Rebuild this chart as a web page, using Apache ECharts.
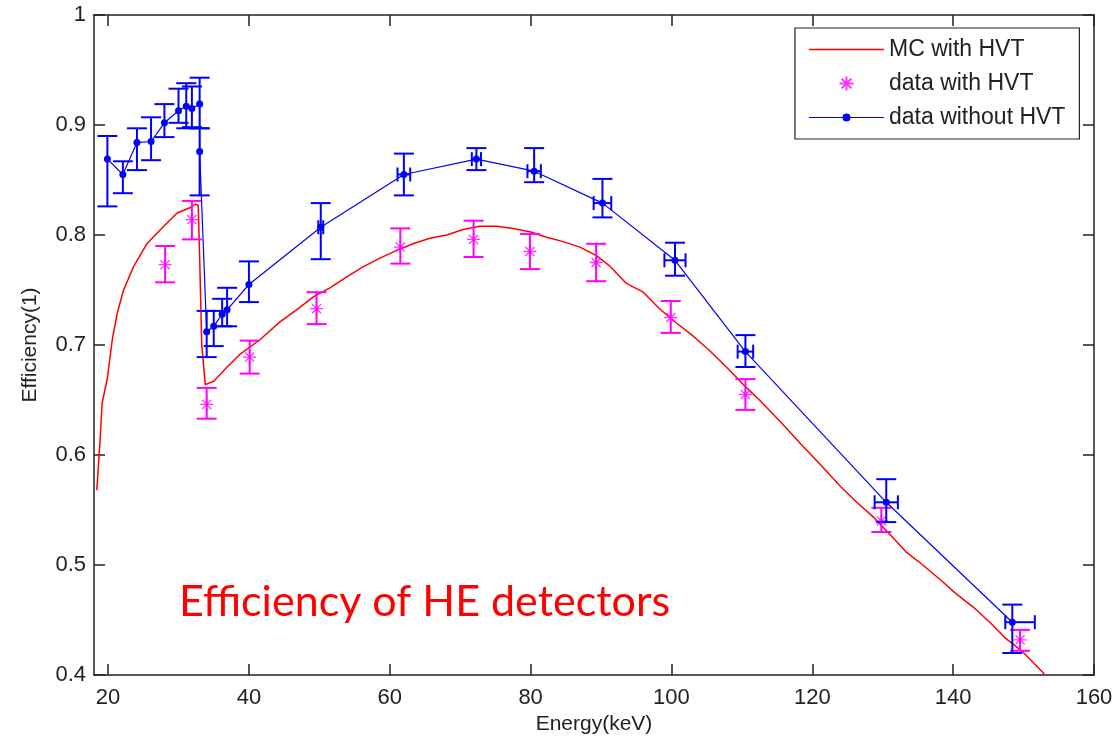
<!DOCTYPE html>
<html>
<head>
<meta charset="utf-8">
<title>Efficiency of HE detectors</title>
<script src="https://cdn.jsdelivr.net/npm/echarts@6/dist/echarts.min.js"></script>
<style>
  html, body { margin: 0; padding: 0; background: #fff; }
  #chart { width: 1116px; height: 740px; }
</style>
</head>
<body>
<div id="chart"></div>
<script>
// ---- Monte Carlo efficiency curve (with HVT) ----
const mcEnergy = [18.4, 18.9, 19.15, 19.9, 20.6, 21.3, 22.2, 23.6, 25.5, 27.9, 29.8, 31.7, 32.4, 32.8,
  33.0, 33.3, 33.8, 35.0, 36.9, 38.8, 41.6, 44.4, 47.0, 49.2, 51.5, 53.9, 56.2, 58.6, 61.0, 63.3,
  65.7, 68.1, 70.4, 72.8, 75.2, 77.5, 79.9, 82.3, 84.6, 87.0, 89.4, 91.2, 93.6, 96.0, 98.3, 100.7,
  103.1, 105.4, 107.8, 110.2, 112.5, 115.5, 118.5, 121.2, 123.9, 126.3, 128.6, 131.0, 133.3, 135.7,
  138.1, 140.4, 142.8, 145.2, 147.5, 149.9, 152.96];
const mcEff = [0.568, 0.617, 0.647, 0.670, 0.705, 0.729, 0.750, 0.771, 0.792, 0.808, 0.820, 0.825, 0.828, 0.827,
  0.780, 0.700, 0.664, 0.667, 0.680, 0.692, 0.705, 0.721, 0.733, 0.744, 0.752, 0.762, 0.771, 0.779, 0.786, 0.792,
  0.797, 0.800, 0.805, 0.808, 0.808, 0.806, 0.803, 0.798, 0.794, 0.789, 0.781, 0.772, 0.756, 0.748, 0.733, 0.720,
  0.708, 0.695, 0.680, 0.664, 0.650, 0.630, 0.609, 0.591, 0.572, 0.557, 0.544, 0.528, 0.512, 0.500,
  0.487, 0.474, 0.462, 0.448, 0.433, 0.421, 0.401];

// ---- Measured data with HVT ----
const hvtEnergy = [28.1, 31.9, 34.0, 40.1, 49.6, 61.5, 71.9, 79.9, 89.3, 99.9, 110.5, 129.8, 149.5];
const hvtEff    = [0.773, 0.814, 0.646, 0.689, 0.733, 0.789, 0.796, 0.785, 0.775, 0.725, 0.655, 0.540, 0.432];
const hvtLow    = [0.757, 0.796, 0.633, 0.674, 0.719, 0.774, 0.780, 0.769, 0.758, 0.711, 0.641, 0.530, 0.422];
const hvtHigh   = [0.790, 0.831, 0.661, 0.704, 0.748, 0.806, 0.813, 0.801, 0.792, 0.740, 0.669, 0.552, 0.441];

// ---- Measured data without HVT ----
const noHvtEnergy = [19.9, 22.1, 24.1, 26.1, 28.0, 30.0, 31.1, 31.9, 33.0, 33.0, 34.0, 35.0, 36.2, 36.9, 40.0,
  50.2, 62.0, 72.3, 80.5, 90.2, 100.5, 110.5, 130.5, 148.4];
const noHvtEff  = [0.869, 0.855, 0.884, 0.885, 0.902, 0.913, 0.917, 0.915, 0.919, 0.876, 0.712, 0.717, 0.728, 0.732, 0.755,
  0.807, 0.855, 0.869, 0.858, 0.829, 0.777, 0.694, 0.557, 0.448];
const noHvtLow  = [0.826, 0.838, 0.859, 0.868, 0.889, 0.902, 0.897, 0.898, 0.897, 0.836, 0.689, 0.699, 0.717, 0.717, 0.739,
  0.778, 0.836, 0.859, 0.848, 0.816, 0.763, 0.680, 0.539, 0.420];
const noHvtHigh = [0.890, 0.867, 0.897, 0.907, 0.919, 0.933, 0.938, 0.935, 0.943, 0.897, 0.731, 0.731, 0.742, 0.752, 0.776,
  0.829, 0.874, 0.879, 0.879, 0.851, 0.793, 0.709, 0.578, 0.464];
// energy uncertainty (keV), left / right
const noHvtELeft  = [0, 0, 0, 0, 0, 0, 0, 0, 0, 0, 0, 0, 0, 0, 0, 0.35, 0.9, 0.65, 0.95, 1.25, 1.5, 1.1, 1.65, 1.0];
const noHvtERight = [0, 0, 0, 0, 0, 0, 0, 0, 0, 0, 0, 0, 0, 0, 0, 0.35, 0.9, 0.65, 0.95, 1.25, 1.5, 1.1, 1.65, 3.2];

// ---- Axis ticks ----
const energyTicks = [20, 40, 60, 80, 100, 120, 140, 160];

const RED = '#ff0000', MAGENTA = '#ff00ff', BLUE = '#0000ff', INK = '#222222';
const FONT = '"Liberation Sans", Arial, sans-serif';

const mcData = mcEnergy.map((e, i) => [e, mcEff[i]]);
const hvtPoints = hvtEnergy.map((e, i) => [e, hvtEff[i]]);
const hvtBars = hvtEnergy.map((e, i) => [e, hvtEff[i], hvtLow[i], hvtHigh[i], e, e]);
const noHvtPoints = noHvtEnergy.map((e, i) => [e, noHvtEff[i]]);
const noHvtBars = noHvtEnergy.map((e, i) =>
  [e, noHvtEff[i], noHvtLow[i], noHvtHigh[i], e - noHvtELeft[i], e + noHvtERight[i]]);

// Error bars: vertical bar with caps, plus optional horizontal (energy) bar with caps.
function errorBars(color, capHalf, hCapHalf, width) {
  return function (params, api) {
    const x = api.value(0), y = api.value(1), lo = api.value(2), hi = api.value(3);
    const xl = api.value(4), xh = api.value(5);
    const st = { stroke: color, lineWidth: width, fill: null };
    const a = api.coord([x, lo]), b = api.coord([x, hi]);
    const kids = [
      { type: 'line', shape: { x1: a[0], y1: a[1], x2: b[0], y2: b[1] }, style: st },
      { type: 'line', shape: { x1: a[0] - capHalf, y1: a[1], x2: a[0] + capHalf, y2: a[1] }, style: st },
      { type: 'line', shape: { x1: b[0] - capHalf, y1: b[1], x2: b[0] + capHalf, y2: b[1] }, style: st }
    ];
    if (xh > xl) {
      const l = api.coord([xl, y]), r = api.coord([xh, y]);
      kids.push(
        { type: 'line', shape: { x1: l[0], y1: l[1], x2: r[0], y2: r[1] }, style: st },
        { type: 'line', shape: { x1: l[0], y1: l[1] - hCapHalf, x2: l[0], y2: l[1] + hCapHalf }, style: st },
        { type: 'line', shape: { x1: r[0], y1: r[1] - hCapHalf, x2: r[0], y2: r[1] + hCapHalf }, style: st }
      );
    }
    return { type: 'group', children: kids };
  };
}

const asterisk = 'path://M0,-10L0,10M-10,0L10,0M-7,-7L7,7M-7,7L7,-7';
// legend keys: plain line, and line with a small dot in the middle
const lineKey = 'path://M0,0L75,0L75,1.4L0,1.4Z';
const dotLineKey = 'path://M0,3.4L75,3.4L75,4.6L0,4.6Z M41.5,4 A4,4 0 1 1 33.5,4 A4,4 0 1 1 41.5,4Z';

const axisLineStyle = { color: INK, width: 1.5 };
const tickStyle = { show: true, inside: true, length: 11, lineStyle: { color: INK, width: 1.5 } };

const chart = echarts.init(document.getElementById('chart'), null, { renderer: 'canvas' });
chart.setOption({
  backgroundColor: '#ffffff',
  animation: false,
  grid: { left: 94, right: 22, top: 15, bottom: 65, containLabel: false },
  graphic: [{
    type: 'text',
    left: 179,
    top: 581,
    style: {
      text: 'Efficiency of HE detectors',
      fill: RED,
      font: '43px Lato, "Open Sans", sans-serif'
    },
    z: 100
  }],
  legend: {
    orient: 'vertical',
    left: 795,
    top: 28,
    padding: [10, 14, 10, 14],
    itemGap: 11,
    itemWidth: 75,
    itemHeight: 14,
    backgroundColor: '#ffffff',
    borderColor: INK,
    borderWidth: 1.2,
    borderRadius: 0,
    textStyle: { fontFamily: FONT, fontSize: 23, color: INK },
    data: [
      { name: 'MC with HVT', icon: lineKey, itemStyle: { borderWidth: 0 } },
      { name: 'data with HVT' },
      { name: 'data without HVT', icon: dotLineKey, itemStyle: { borderWidth: 0 } }
    ]
  },
  xAxis: [{
    type: 'value',
    min: 18,
    max: 160,
    position: 'bottom',
    name: 'Energy(keV)',
    nameLocation: 'middle',
    nameGap: 39,
    nameTextStyle: { fontFamily: FONT, fontSize: 21, color: INK },
    axisLine: { show: true, lineStyle: axisLineStyle },
    axisTick: Object.assign({ customValues: energyTicks }, tickStyle),
    axisLabel: { customValues: energyTicks, margin: 12, fontFamily: FONT, fontSize: 22, color: INK },
    splitLine: { show: false }
  }, {
    type: 'value',
    min: 18,
    max: 160,
    position: 'top',
    axisLine: { show: true, lineStyle: axisLineStyle },
    axisTick: Object.assign({ customValues: energyTicks }, tickStyle),
    axisLabel: { show: false },
    splitLine: { show: false }
  }],
  yAxis: [{
    type: 'value',
    min: 0.4,
    max: 1,
    interval: 0.1,
    position: 'left',
    name: 'Efficiency(1)',
    nameLocation: 'middle',
    nameGap: 53,
    nameRotate: 90,
    nameTextStyle: { fontFamily: FONT, fontSize: 21, color: INK },
    axisLine: { show: true, lineStyle: axisLineStyle },
    axisTick: tickStyle,
    axisLabel: { margin: 8, fontFamily: FONT, fontSize: 22, color: INK },
    splitLine: { show: false }
  }, {
    type: 'value',
    min: 0.4,
    max: 1,
    interval: 0.1,
    position: 'right',
    axisLine: { show: true, lineStyle: axisLineStyle },
    axisTick: tickStyle,
    axisLabel: { show: false },
    splitLine: { show: false }
  }],
  series: [{
    name: 'MC with HVT',
    type: 'line',
    data: mcData,
    symbol: 'none',
    color: RED,
    lineStyle: { color: RED, width: 1.5 },
    z: 3
  }, {
    name: 'hvt-errors',
    type: 'custom',
    data: hvtBars,
    encode: { x: 0, y: 1 },
    renderItem: errorBars(MAGENTA, 10, 7, 2),
    silent: true,
    z: 4
  }, {
    name: 'data with HVT',
    type: 'scatter',
    data: hvtPoints,
    symbol: asterisk,
    symbolSize: 13,
    color: MAGENTA,
    itemStyle: { color: MAGENTA, borderColor: MAGENTA, borderWidth: 1.3 },
    z: 5
  }, {
    name: 'noHvt-errors',
    type: 'custom',
    data: noHvtBars,
    encode: { x: 0, y: 1 },
    renderItem: errorBars(BLUE, 10, 7, 2),
    silent: true,
    z: 6
  }, {
    name: 'data without HVT',
    type: 'line',
    data: noHvtPoints,
    symbol: 'circle',
    symbolSize: 7,
    showAllSymbol: true,
    color: BLUE,
    itemStyle: { color: BLUE },
    lineStyle: { color: BLUE, width: 1.2 },
    z: 7
  }]
});
</script>
</body>
</html>
